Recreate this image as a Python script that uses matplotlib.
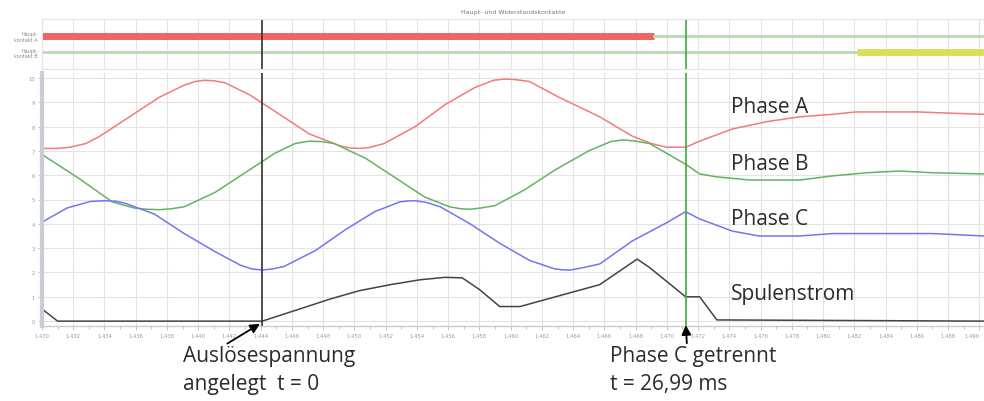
import numpy as np
import matplotlib
matplotlib.use("Agg")
import matplotlib.pyplot as plt

# Zeitachse in s, Werte in Skalenteilen
t_a = [1.4300, 1.4310, 1.4318, 1.4328, 1.4337, 1.4356, 1.4375, 1.4391, 1.4398, 1.4404,
       1.4410, 1.4417, 1.4433, 1.4452, 1.4471, 1.4491, 1.4497, 1.4503, 1.4509, 1.4519,
       1.4539, 1.4558, 1.4577, 1.4589, 1.4596, 1.4603, 1.4612, 1.4631, 1.4657, 1.4678,
       1.4690, 1.4700, 1.4712, 1.4721, 1.4742, 1.4764, 1.4785, 1.4806, 1.4821, 1.4860,
       1.4881, 1.4903]
phase_a = [7.10, 7.10, 7.15, 7.30, 7.60, 8.40, 9.20, 9.70, 9.85, 9.90,
           9.88, 9.80, 9.30, 8.50, 7.70, 7.20, 7.12, 7.10, 7.13, 7.30,
           8.00, 8.90, 9.60, 9.90, 9.95, 9.93, 9.85, 9.20, 8.40, 7.60,
           7.30, 7.15, 7.15, 7.40, 7.90, 8.20, 8.40, 8.50, 8.60, 8.60,
           8.55, 8.50]

t_b = [1.4300, 1.4324, 1.4345, 1.4359, 1.4367, 1.4375, 1.4383, 1.4391, 1.4411, 1.4430,
       1.4449, 1.4462, 1.4471, 1.4479, 1.4487, 1.4507, 1.4526, 1.4545, 1.4561, 1.4568,
       1.4574, 1.4581, 1.4590, 1.4609, 1.4628, 1.4650, 1.4664, 1.4672, 1.4680, 1.4689,
       1.4712, 1.4721, 1.4732, 1.4753, 1.4785, 1.4806, 1.4828, 1.4849, 1.4870, 1.4903]
phase_b = [6.85, 5.85, 4.90, 4.65, 4.60, 4.58, 4.62, 4.70, 5.30, 6.10,
           6.90, 7.30, 7.40, 7.38, 7.30, 6.70, 5.90, 5.10, 4.70, 4.62,
           4.60, 4.65, 4.75, 5.40, 6.20, 7.00, 7.38, 7.45, 7.40, 7.30,
           6.45, 6.05, 5.93, 5.80, 5.80, 5.97, 6.10, 6.17, 6.10, 6.05]

t_c = [1.4300, 1.4316, 1.4331, 1.4340, 1.4347, 1.4353, 1.4372, 1.4391, 1.4411, 1.4427,
       1.4434, 1.4441, 1.4448, 1.4455, 1.4475, 1.4494, 1.4513, 1.4529, 1.4534, 1.4539,
       1.4546, 1.4555, 1.4574, 1.4593, 1.4612, 1.4628, 1.4633, 1.4638, 1.4645, 1.4657,
       1.4678, 1.4700, 1.4712, 1.4721, 1.4742, 1.4759, 1.4785, 1.4806, 1.4870, 1.4903]
phase_c = [4.07, 4.65, 4.92, 4.95, 4.93, 4.85, 4.40, 3.60, 2.85, 2.30,
           2.15, 2.10, 2.15, 2.25, 2.90, 3.75, 4.50, 4.90, 4.94, 4.95,
           4.88, 4.70, 4.00, 3.20, 2.50, 2.15, 2.11, 2.10, 2.18, 2.35,
           3.30, 4.05, 4.50, 4.20, 3.70, 3.50, 3.50, 3.60, 3.60, 3.50]

t_s = [1.4300, 1.4310, 1.4441, 1.4465, 1.4484, 1.4503, 1.4523, 1.4542, 1.4558, 1.4569,
       1.4580, 1.4593, 1.4606, 1.4623, 1.4657, 1.4681, 1.4689, 1.4712, 1.4721, 1.4732,
       1.4903]
spule = [0.50, 0.00, 0.00, 0.50, 0.90, 1.25, 1.50, 1.70, 1.80, 1.78,
         1.30, 0.60, 0.60, 0.90, 1.50, 2.55, 2.20, 1.00, 1.00, 0.05,
         0.00]

t_ausl = 1.4441
t_trenn = 1.4712
t_rot_ende = 1.4692
t_gelb_start = 1.4822
x_min, x_max = 1.430, 1.4903

fig = plt.figure(figsize=(9.84, 4.02), dpi=100)
ax_top = fig.add_axes([42/984, 1-70/402, 942/984, 50/402])
ax = fig.add_axes([42/984, 1-327/402, 942/984, 253/402])

xticks = np.arange(1.430, 1.4901, 0.002)
tick_col = "#8d9abb"
grid_col = "#e3e3e3"

# oberes Panel: Kontakte
ax_top.plot([x_min, t_rot_ende], [2, 2], color="#f26464", lw=5, solid_capstyle="butt")
ax_top.plot([t_rot_ende, x_max], [2, 2], color="#b5dcae", lw=2)
ax_top.plot([x_min, t_gelb_start], [1, 1], color="#b5dcae", lw=2)
ax_top.plot([t_gelb_start, x_max], [1, 1], color="#dede5e", lw=5, solid_capstyle="butt")
ax_top.axvline(t_ausl, color="#333333", lw=1.2)
ax_top.axvline(t_trenn, color="#3caa3c", lw=1.2)
ax_top.set_xlim(x_min, x_max)
ax_top.set_ylim(0, 3)
ax_top.set_xticks(xticks)
ax_top.set_xticklabels([])
ax_top.tick_params(axis="x", length=0)
ax_top.set_yticks([1, 2])
ax_top.set_yticklabels(["Haupt-\nkontakt B", "Haupt-\nkontakt A"], fontsize=3.5,
                       color="#888888", linespacing=1.1)
ax_top.tick_params(axis="y", length=0, pad=3)
ax_top.grid(axis="x", color=grid_col, lw=0.8)
for s in ax_top.spines.values():
    s.set_color(grid_col)
    s.set_linewidth(0.8)
ax_top.set_title("Haupt- und Widerstandskontakte", fontsize=4.5, color="#777777", pad=4)

# Hauptpanel
ax.plot(t_a, phase_a, color="#f47a7a", lw=1.1)
ax.plot(t_b, phase_b, color="#62b462", lw=1.1)
ax.plot(t_c, phase_c, color="#7474f4", lw=1.1)
ax.plot(t_s, spule, color="#444444", lw=1.1)
ax.axvline(t_ausl, color="#333333", lw=1.2)
ax.axvline(t_trenn, color="#3caa3c", lw=1.2)

ax.set_xlim(x_min, x_max)
ax.set_ylim(-0.2, 10.2)
ax.set_xticks(xticks)
ax.set_xticklabels([f"{x:.3f}" for x in xticks], fontsize=3.8, color=tick_col)
ax.get_xticklabels()[-1].set_horizontalalignment("right")
ax.set_xticks(np.arange(1.431, 1.490, 0.002), minor=True)
ax.set_yticks(range(0, 11))
ax.set_yticklabels([str(v) for v in range(0, 11)], fontsize=3.8, color=tick_col)
ax.tick_params(axis="both", which="major", length=3, width=0.6, color="#bbbbbb", pad=2)
ax.tick_params(axis="x", which="minor", length=2, width=0.6, color="#bbbbbb")
ax.grid(color=grid_col, lw=0.8)
ax.set_axisbelow(True)
for name in ["top", "right"]:
    ax.spines[name].set_visible(False)
ax.spines["left"].set_color("#c8ccd8")
ax.spines["left"].set_linewidth(3)
ax.spines["bottom"].set_color("#cccccc")
ax.spines["bottom"].set_linewidth(1)

font = ["Open Sans", "DejaVu Sans"]
txt_col = "#2b2b2b"
lx = 1.4741
ax.text(lx, 8.6, "Phase A", fontsize=15, family=font, color=txt_col, va="baseline")
ax.text(lx, 6.26, "Phase B", fontsize=15, family=font, color=txt_col, va="baseline")
ax.text(lx, 3.99, "Phase C", fontsize=15, family=font, color=txt_col, va="baseline")
ax.text(lx, 0.9, "Spulenstrom", fontsize=15, family=font, color=txt_col, va="baseline")

# Pfeile und Beschriftung unten
ax.annotate("", xy=(t_ausl, -0.05), xycoords="data", xytext=(225, 402-346),
            textcoords="figure pixels",
            arrowprops=dict(arrowstyle="-|>", color="black", lw=1.3, mutation_scale=14),
            annotation_clip=False)
ax.annotate("", xy=(t_trenn, -0.05), xycoords="data", xytext=(687, 402-347),
            textcoords="figure pixels",
            arrowprops=dict(arrowstyle="-|>", color="black", lw=1.3, mutation_scale=14),
            annotation_clip=False)
fig.text(183/984, 40/402, "Auslösespannung", fontsize=15, family=font, color=txt_col, va="baseline")
fig.text(183/984, 12/402, "angelegt  t = 0", fontsize=15, family=font, color=txt_col, va="baseline")
fig.text(610/984, 40/402, "Phase C getrennt", fontsize=15, family=font, color=txt_col, va="baseline")
fig.text(610/984, 12/402, "t = 26,99 ms", fontsize=15, family=font, color=txt_col, va="baseline")

fig.savefig("out.png", dpi=100)
